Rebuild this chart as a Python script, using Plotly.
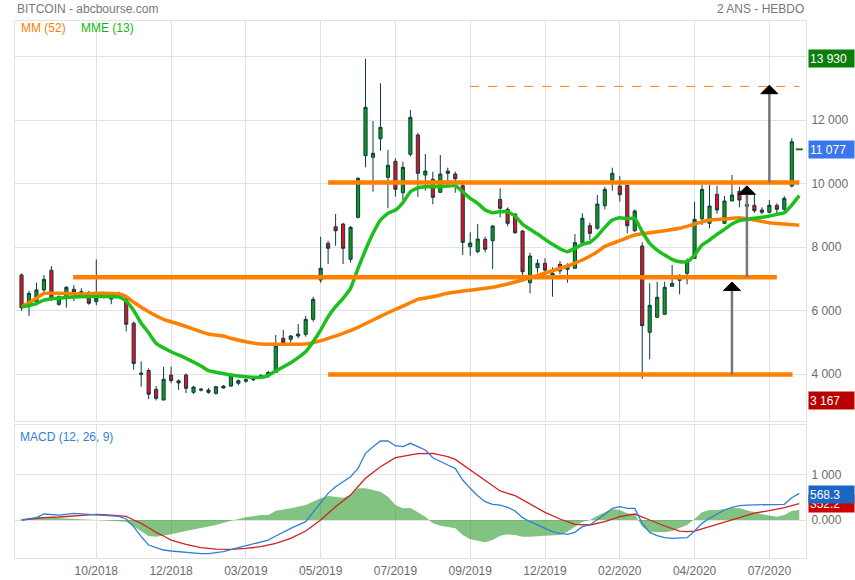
import plotly.graph_objects as go

# ---------------- DATA ----------------
opens = [7120, 6120, 6280, 6650, 7270, 6195, 6435, 6670, 6545, 6560,
         6280, 6460, 6360, 6490, 6370, 5600, 4030, 4110, 3518, 3180,
         3968, 3785, 3968, 3423, 3490, 3496, 3390, 3620, 3620, 3710,
         3775, 3820, 3930, 3937, 4050, 5125, 5092, 5197, 5250, 5723,
         6960, 8117, 8640, 8725, 7613, 8936, 10877, 10826, 11412, 10196,
         10700, 9711, 10920, 11528, 10268, 10133, 9723, 10394, 10300, 9931,
         8010, 7853, 8243, 8200, 9503, 9188, 9040, 8505, 6876, 7349,
         7487, 7097, 7455, 7380, 7330, 8148, 8671, 8590, 9302, 10111,
         9922, 9943, 8514, 8032, 5314, 5786, 5880, 6762, 6951, 7172,
         7645, 8890, 8747, 9659, 8747, 9450, 9755, 9345, 9314, 9166,
         9094, 9314, 9188, 9922]
highs = [7170, 6620, 6880, 7120, 7400, 6480, 6770, 6800, 6700, 6620,
         7610, 6600, 6490, 6600, 6400, 5650, 4400, 4180, 3622, 4230,
         4230, 3833, 4020, 3620, 3560, 3560, 3620, 3650, 4010, 3830,
         3860, 3880, 3990, 4100, 5230, 5390, 5230, 5575, 5827, 6435,
         8325, 8200, 9040, 8760, 8660, 10196, 13930, 11970, 13157, 11056,
         10794, 10688, 12316, 11600, 10930, 10373, 10900, 10500, 10373, 10007,
         8463, 8725, 8325, 8693, 9850, 9250, 9060, 8536, 7820, 7613,
         7645, 7361, 7560, 7487, 8410, 9062, 8766, 9638, 9900, 10500,
         10237, 9960, 9188, 8148, 6857, 6907, 6907, 7433, 7140, 7645,
         9428, 9953, 9953, 9931, 9607, 10269, 9900, 9530, 9638, 9250,
         9481, 9377, 9607, 11424]
lows = [5990, 5830, 6170, 6560, 6300, 6150, 6090, 6300, 6450, 6180,
        6170, 6380, 6200, 6420, 5340, 4140, 3600, 3210, 3167, 3180,
        3707, 3500, 3400, 3370, 3450, 3380, 3350, 3540, 3600, 3650,
        3720, 3780, 3900, 3880, 4040, 4880, 4990, 5125, 5175, 5648,
        6876, 7465, 8040, 7465, 7505, 8900, 10511, 9742, 11034, 9220,
        9585, 9481, 10850, 9585, 9774, 9346, 9723, 9900, 9711, 7748,
        7727, 7802, 7833, 7307, 8936, 8650, 8420, 6907, 6540, 7190,
        7065, 6435, 7140, 6876, 7330, 8063, 8221, 8550, 9188, 9774,
        9428, 8432, 8482, 3850, 4463, 5786, 5880, 6750, 6510, 6825,
        7645, 8693, 8590, 9050, 8725, 9450, 9250, 9100, 9081, 9030,
        9062, 9040, 9112, 9880]
closes = [6090, 6540, 6650, 6980, 6380, 6435, 6730, 6580, 6595, 6230,
          6385, 6500, 6430, 6540, 5570, 4330, 3990, 3365, 3234, 3833,
          3795, 3720, 3550, 3590, 3520, 3423, 3600, 3560, 3950, 3790,
          3820, 3840, 3955, 4050, 4890, 4990, 5197, 5260, 5723, 6353,
          7330, 7960, 8514, 7960, 8620, 10165, 12400, 10952, 11770, 10574,
          9818, 10511, 12086, 10322, 10394, 9566, 10300, 10322, 10152, 8148,
          8127, 8252, 7928, 8662, 9220, 8747, 8450, 7222, 7717, 7487,
          7276, 7172, 7245, 7298, 8137, 8905, 8432, 9355, 9815, 10322,
          9648, 8671, 9134, 5522, 6164, 6416, 6731, 6857, 7109, 7537,
          8873, 9815, 9292, 9166, 9450, 9638, 9481, 9282, 9144, 9094,
          9314, 9188, 9534, 11318]

tick_pos = [10, 20, 30, 40, 50, 60, 70, 80, 90, 100]
tick_labels = ["10/2018", "12/2018", "03/2019", "05/2019", "07/2019",
               "09/2019", "12/2019", "02/2020", "04/2020", "07/2020"]

mme13_x = [0, 2, 3, 6, 10, 13, 14, 15, 16, 17, 18, 20, 22, 24, 25, 26, 28, 30,
           32, 33, 34, 36, 38, 39, 40, 41, 42, 43, 44, 45, 46, 47, 48, 49, 50,
           51, 52, 53, 54, 56, 58, 59, 60, 61, 62, 63, 64, 65, 66, 67, 68, 69,
           70, 71, 72, 73, 74, 75, 76, 77, 78, 79, 80, 81, 82, 83, 84, 85, 86,
           87, 88, 89, 90, 91, 92, 93, 94, 95, 96, 97, 98, 99, 100, 101, 102,
           103, 104]
mme13_y = [6110, 6220, 6330, 6410, 6440, 6430, 6300, 6000, 5600, 5300, 4967,
           4703, 4494, 4252, 4104, 4055, 3968, 3915, 3896, 3960, 4094, 4356,
           4703, 5017, 5386, 5805, 6120, 6385, 6700, 7330, 7906, 8432, 8851,
           9062, 9166, 9400, 9742, 9868, 9900, 9900, 9931, 9742, 9534, 9377,
           9166, 9081, 9112, 9112, 8977, 8716, 8558, 8410, 8243, 8086, 7947,
           7853, 7960, 8086, 8148, 8347, 8620, 8851, 8924, 8893, 8905, 8482,
           8117, 7906, 7748, 7613, 7537, 7537, 7748, 8063, 8221, 8400, 8558,
           8725, 8830, 8873, 8905, 8936, 8977, 9030, 9081, 9323, 9620]

mm52_x = [0, 2, 3, 5, 8, 10, 13, 14, 15, 17, 19, 21, 23, 25, 27, 28, 30, 32,
          34, 36, 38, 39, 41, 43, 45, 47, 49, 51, 53, 55, 57, 59, 61, 63, 65,
          67, 69, 71, 73, 75, 77, 78, 80, 82, 84, 86, 88, 90, 92, 94, 96, 98,
          100, 102, 104]
mm52_y = [6110, 6385, 6540, 6545, 6520, 6542, 6520, 6440, 6260, 5962, 5723,
          5575, 5417, 5260, 5197, 5125, 5017, 4945, 4935, 4935, 4945, 4986,
          5125, 5282, 5471, 5701, 5931, 6140, 6353, 6435, 6542, 6615, 6668,
          6731, 6835, 6961, 7109, 7254, 7402, 7591, 7853, 8020, 8200, 8378,
          8450, 8514, 8590, 8725, 8851, 8882, 8924, 8851, 8766, 8725, 8683]

macd_x = [0, 2, 3, 5, 7, 10, 13, 14, 15, 16, 17, 18, 19, 20, 22, 24, 25, 27,
          29, 31, 33, 34, 36, 38, 39, 40, 41, 42, 43, 44, 45, 46, 47, 48, 49,
          50, 51, 52, 53, 54, 55, 56, 57, 58, 59, 60, 61, 62, 63, 64, 65, 66,
          67, 68, 69, 70, 71, 72, 73, 74, 75, 76, 77, 78, 79, 80, 81, 82, 83,
          84, 85, 86, 87, 88, 89, 90, 91, 92, 93, 94, 95, 96, 97, 98, 99, 100,
          101, 102, 103, 104]
macd_y = [0, 51, 131, 109, 146, 109, 80, 22, -146, -365, -547, -606, -656,
          -678, -715, -737, -737, -693, -606, -525, -438, -350, -182, -37, 168,
          387, 584, 729, 838, 947, 1131, 1459, 1604, 1729, 1729, 1626, 1604,
          1678, 1604, 1532, 1363, 1276, 1203, 1131, 875, 693, 532, 401, 343,
          328, 277, 197, 51, -37, -109, -182, -255, -292, -314, -270, -146,
          -109, 0, 124, 255, 292, 255, 255, -73, -270, -343, -387, -401, -401,
          -387, -241, -73, 37, 124, 219, 277, 314, 328, 328, 328, 328, 328, 343,
          488, 584]

signal_x = [0, 3, 5, 8, 10, 12, 14, 15, 16, 17, 18, 19, 20, 22, 24, 26, 28, 30,
            32, 34, 36, 38, 40, 42, 44, 46, 48, 50, 52, 53, 55, 57, 58, 60, 62,
            64, 66, 68, 70, 72, 74, 76, 78, 80, 82, 84, 86, 88, 89, 90, 92, 94,
            96, 98, 100, 102, 104]
signal_y = [0, 51, 66, 102, 124, 109, 80, 0, -73, -168, -270, -350, -438, -532,
            -606, -635, -642, -620, -584, -510, -401, -241, 0, 292, 547, 912,
            1167, 1363, 1430, 1451, 1459, 1385, 1327, 1094, 853, 635, 532, 343,
            168, 22, -95, -109, -37, 73, 131, 0, -131, -241, -255, -241, -146,
            -37, 51, 153, 204, 270, 357]

hist_x = [0, 2, 4, 6, 8, 10, 12, 14, 15, 16, 17, 18, 20, 22, 24, 26, 28, 30,
          32, 33, 34, 36, 38, 40, 41, 42, 43, 44, 45, 46, 47, 48, 49, 50, 51,
          52, 53, 54, 55, 56, 58, 59, 60, 61, 62, 63, 64, 65, 66, 67, 68, 70,
          72, 73, 74, 75, 76, 77, 78, 79, 80, 81, 82, 83, 84, 85, 86, 87, 88,
          89, 90, 91, 92, 93, 94, 95, 96, 97, 98, 99, 100, 101, 102, 103, 104]
hist_y = [0, 66, 51, 37, 22, -7, -15, -37, -146, -255, -350, -365, -314, -241,
          -182, -109, -15, 58, 109, 109, 204, 255, 328, 474, 525, 510, 489, 547,
          693, 693, 656, 620, 510, 328, 255, 262, 168, 73, -73, -124, -182,
          -328, -423, -460, -489, -438, -343, -314, -328, -365, -365, -343,
          -328, -255, -146, -37, 0, 95, 168, 241, 219, 146, 124, -146, -255,
          -270, -270, -241, -182, -109, 22, 168, 219, 219, 241, 270, 255, 219,
          168, 124, 95, 73, 109, 197, 219]

# chart drawings (levels and projection arrows)
level_y = [10030, 7050, 3985]
level_x0 = [41, 6.9, 41]
level_x1 = [104, 101, 103.1]
target_y = 13060
target_x0, target_x1 = 60, 104
arrow_x = [95, 97, 100]
arrow_base = [3985, 7050, 10030]
arrow_tip = [6900, 9930, 13100]

period_high = 13930
last_price = 11077
period_low = 3167
macd_last = 568.3
signal_last = 352.2

# ---------------- FIGURE ----------------
def fmt(v):
    return f"{v:,}".replace(",", " ")

idx = list(range(len(closes)))
ORANGE = "#ff8000"
GREEN_LINE = "#1cc01c"
GRID = "#e2e2e2"
TXT = "#6b6b6b"
FONT = "Liberation Sans, Arial, sans-serif"

fig = go.Figure()

fig.add_trace(go.Candlestick(
    x=idx, open=opens, high=highs, low=lows, close=closes,
    increasing=dict(fillcolor="#109a10", line=dict(color="#0c3a4a", width=1)),
    decreasing=dict(fillcolor="#e8101a", line=dict(color="#0c3a4a", width=1)),
    whiskerwidth=0, showlegend=False, hoverinfo="skip",
    xaxis="x", yaxis="y"))

fig.add_trace(go.Scatter(x=mm52_x, y=mm52_y, mode="lines",
                         line=dict(color=ORANGE, width=3.5, shape="spline", smoothing=0.4),
                         showlegend=False, xaxis="x", yaxis="y"))
fig.add_trace(go.Scatter(x=mme13_x, y=mme13_y, mode="lines",
                         line=dict(color=GREEN_LINE, width=3.5, shape="spline", smoothing=0.4),
                         showlegend=False, xaxis="x", yaxis="y"))
fig.add_trace(go.Scatter(x=[len(closes)], y=[last_price], mode="markers",
                         marker=dict(symbol="line-ew", size=5,
                                     line=dict(color="#0f7a0f", width=2)),
                         showlegend=False, xaxis="x", yaxis="y"))

# MACD panel
fig.add_trace(go.Scatter(x=hist_x, y=hist_y, mode="lines", fill="tozeroy",
                         fillcolor="rgba(16,140,16,0.52)", line=dict(width=0, color="rgba(0,0,0,0)"),
                         showlegend=False, xaxis="x2", yaxis="y2"))
fig.add_trace(go.Scatter(x=signal_x, y=signal_y, mode="lines",
                         line=dict(color="#d42020", width=1.3),
                         showlegend=False, xaxis="x2", yaxis="y2"))
fig.add_trace(go.Scatter(x=macd_x, y=macd_y, mode="lines",
                         line=dict(color="#2f7fd8", width=1.3),
                         showlegend=False, xaxis="x2", yaxis="y2"))

shapes = []
for yv, a, b in zip(level_y, level_x0, level_x1):
    shapes.append(dict(type="line", xref="x", yref="y", x0=a, x1=b, y0=yv, y1=yv,
                       line=dict(color=ORANGE, width=4.5), layer="above"))
shapes.append(dict(type="line", xref="x", yref="y", x0=target_x0, x1=target_x1,
                   y0=target_y, y1=target_y,
                   line=dict(color=ORANGE, width=1, dash="dash"), layer="above"))
head_h, head_w = 270, 1.14
for xv, b, t in zip(arrow_x, arrow_base, arrow_tip):
    shapes.append(dict(type="line", xref="x", yref="y", x0=xv, x1=xv, y0=b, y1=t - head_h,
                       line=dict(color="#777777", width=2.5), layer="above"))
    shapes.append(dict(type="path", xref="x", yref="y",
                       path=f"M {xv-head_w},{t-head_h} L {xv+head_w},{t-head_h} L {xv},{t} Z",
                       fillcolor="#000000", line=dict(color="#000000", width=1), layer="above"))

annotations = [
    dict(text="BITCOIN - abcbourse.com", xref="paper", yref="paper", x=0, y=1.0223,
         xanchor="left", yanchor="middle", showarrow=False, font=dict(size=12, color="#777777")),
    dict(text="2 ANS - HEBDO", xref="paper", yref="paper", x=1, y=1.0223,
         xanchor="right", yanchor="middle", showarrow=False, font=dict(size=12, color="#777777")),
    dict(text="MM (52)", xref="paper", yref="paper", x=0.005, y=0.987,
         xanchor="left", yanchor="middle", showarrow=False, font=dict(size=12, color=ORANGE)),
    dict(text="MME (13)", xref="paper", yref="paper", x=0.081, y=0.987,
         xanchor="left", yanchor="middle", showarrow=False, font=dict(size=12, color="#11b811")),
    dict(text="MACD (12, 26, 9)", xref="paper", yref="paper", x=0.004, y=0.225,
         xanchor="left", yanchor="middle", showarrow=False, font=dict(size=12, color="#2f7fd8")),
]

def box(text, yv, yref, bg):
    return dict(text=text, xref="paper", yref=yref, x=1, xshift=2, y=yv,
                xanchor="left", yanchor="middle", showarrow=False, align="left",
                width=43, height=15, borderpad=1, bgcolor=bg,
                font=dict(size=12, color="white"))

annotations += [
    box(fmt(period_high), period_high, "y", "#0b7d0b"),
    box(fmt(last_price), last_price, "y", "#3b76ee"),
    box(fmt(period_low), period_low, "y", "#b80000"),
    box(f"{signal_last:.1f}", signal_last, "y2", "#c80000"),
    box(f"{macd_last:.1f}", macd_last, "y2", "#1a66c4"),
]

ytick_main = [4000, 6000, 8000, 10000, 12000, 14000]

fig.update_layout(
    width=855, height=580,
    margin=dict(l=15, r=49, t=21, b=22, autoexpand=False),
    paper_bgcolor="white", plot_bgcolor="white",
    font=dict(family=FONT, size=12, color=TXT),
    showlegend=False,
    boxgap=0.4,
    xaxis=dict(domain=[0, 1], anchor="y", range=[-0.87, 104.9], tickvals=tick_pos,
               ticktext=tick_labels, showticklabels=False, showgrid=True, gridcolor=GRID,
               zeroline=False, showline=True, linecolor=GRID, mirror=True, automargin=False,
               rangeslider=dict(visible=False)),
    yaxis=dict(domain=[0.2551, 1], anchor="x", side="right", range=[2520, 15120],
               tickvals=ytick_main, ticktext=[fmt(v) for v in ytick_main], automargin=False,
               showgrid=True, gridcolor=GRID, zeroline=False, showline=True,
               linecolor=GRID, mirror=True, ticks="outside", ticklen=2, tickcolor="white"),
    xaxis2=dict(domain=[0, 1], anchor="y2", matches="x", range=[-0.87, 104.9],
                tickvals=tick_pos, ticktext=tick_labels, showgrid=True, gridcolor=GRID,
                zeroline=False, showline=True, linecolor=GRID, mirror=True, automargin=False,
                ticks="outside", ticklen=2, tickcolor="white"),
    yaxis2=dict(domain=[0, 0.2477], anchor="x2", side="right", range=[-831, 2079],
                tickvals=[0, 1000], ticktext=["0.000", "1 000"], showgrid=True,
                gridcolor=GRID, zeroline=False, showline=True, linecolor=GRID, automargin=False,
                mirror=True, ticks="outside", ticklen=2, tickcolor="white"),
    shapes=shapes,
    annotations=annotations,
)

fig.write_html("out.html", config={"displayModeBar": False},
               post_script="document.body.style.margin='0px';")
